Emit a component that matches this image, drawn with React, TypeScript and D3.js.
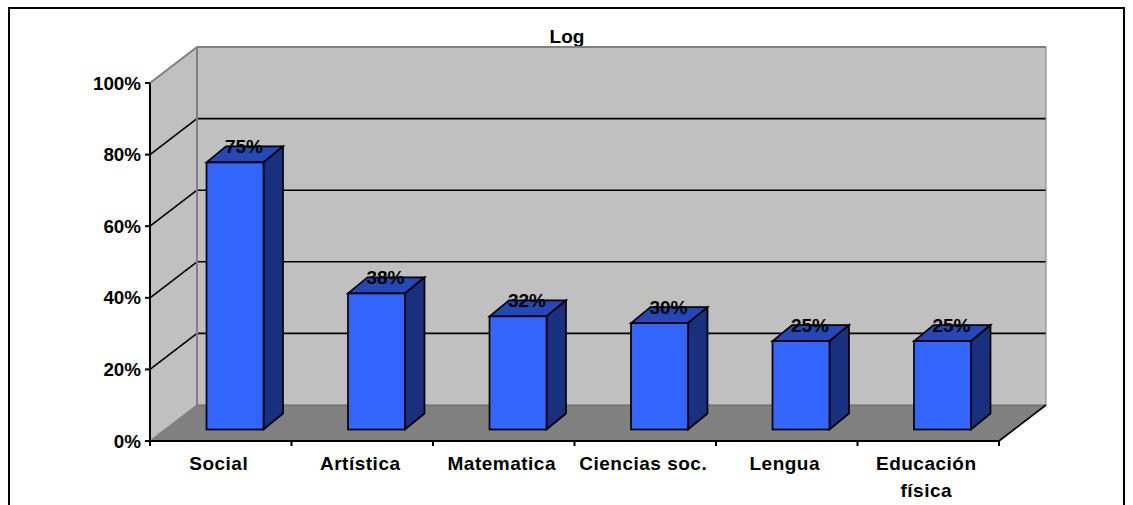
import React from "react";
import * as d3 from "d3";

const categories = ["Social", "Artística", "Matematica", "Ciencias soc.", "Lengua", "Educación física"];
const values = [0.746, 0.38, 0.316, 0.297, 0.247, 0.247];
const yTicks = [0, 0.2, 0.4, 0.6, 0.8, 1];
const title = "Log";

const FONT = "'Liberation Sans', Arial, sans-serif";
const DX = 47;
const DY = -36;

export default function App() {
  const x = d3.scaleBand<string>().domain(categories).range([150, 999]).paddingInner(0).paddingOuter(0);
  const y = d3.scaleLinear().domain([0, 1]).range([441, 83]);
  const pct = d3.format(".0%");
  const bw = 57;
  const barDx = 19.5;
  const barDy = -16;
  const poly = (pts: [number, number][]) => d3.line()(pts) + "Z";
  const x0 = x.range()[0];
  const x1 = x.range()[1];
  const y0 = y(0);
  const y1 = y(1);

  const labelLines: Record<string, string[]> = { "Educación física": ["Educación", "física"] };

  return (
    <svg width={1133} height={505} style={{ position: "absolute", left: 0, top: 0, background: "#fff" }} fontFamily={FONT} fontWeight="bold">
      <rect x={9} y={8} width={1115} height={520} fill="#fff" stroke="#000" strokeWidth={2} />
      <text x={567} y={43} textAnchor="middle" fontSize={19}>{title}</text>

      {/* back wall */}
      <rect x={x0 + DX} y={y1 + DY} width={x1 - x0} height={y0 - y1} fill="#c0c0c0" />
      {/* side wall */}
      <path d={poly([[x0, y0], [x0 + DX, y0 + DY], [x0 + DX, y1 + DY], [x0, y1]])} fill="#c0c0c0" />
      {/* floor */}
      <path d={poly([[x0, y0], [x1, y0], [x1 + DX, y0 + DY], [x0 + DX, y0 + DY]])} fill="#808080" />

      {yTicks.slice(1, -1).map((t) => (
        <g key={t} stroke="#000" strokeWidth={1.6} fill="none">
          <line x1={x0} y1={y(t)} x2={x0 + DX} y2={y(t) + DY} />
          <line x1={x0 + DX} y1={y(t) + DY} x2={x1 + DX} y2={y(t) + DY} />
        </g>
      ))}

      <g stroke="#808080" strokeWidth={2} fill="none">
        <path d={d3.line()([[x0, y1], [x0 + DX, y1 + DY], [x1 + DX, y1 + DY]]) as string} />
        <line x1={x0 + DX} y1={y1 + DY} x2={x0 + DX} y2={y0 + DY} />
        <line x1={x0} y1={y0} x2={x0 + DX} y2={y0 + DY} strokeWidth={1.5} />
        <line x1={x1 + DX} y1={y1 + DY} x2={x1 + DX} y2={y0 + DY} strokeWidth={1} />
        <line x1={x0 + DX} y1={y0 + DY} x2={x1 + DX} y2={y0 + DY} strokeWidth={1} stroke="#666" />
      </g>
      <line x1={x1} y1={y0} x2={x1 + DX} y2={y0 + DY} stroke="#000" strokeWidth={1.6} />

      {/* axes */}
      <g stroke="#000" strokeWidth={2} fill="none">
        <line x1={x0} y1={y1} x2={x0} y2={y0 + 5} />
        <line x1={x0 - 5} y1={y0} x2={x1} y2={y0} />
        {yTicks.map((t) => <line key={t} x1={x0 - 5} y1={y(t)} x2={x0} y2={y(t)} />)}
        {[...categories.map((c) => x(c) as number), x1].map((p) => <line key={p} x1={p} y1={y0} x2={p} y2={y0 + 5} />)}
      </g>
      {yTicks.map((t) => (
        <text key={t} x={141} y={y(t) + 6.5} textAnchor="end" fontSize={18.8}>{pct(t)}</text>
      ))}

      {/* bars */}
      {categories.map((c, i) => {
        const bx = (x(c) as number) + 56.5;
        const base = y0 - 11.5;
        const top = base - (y0 - y(values[i]));
        return (
          <g key={c} stroke="#000" strokeWidth={1.7} strokeLinejoin="miter">
            <path d={poly([[bx, top], [bx + barDx, top + barDy], [bx + bw + barDx, top + barDy], [bx + bw, top]])} fill="#2448b8" />
            <path d={poly([[bx + bw, top], [bx + bw + barDx, top + barDy], [bx + bw + barDx, base + barDy], [bx + bw, base]])} fill="#19307f" />
            <rect x={bx} y={top} width={bw} height={base - top} fill="#3366ff" />
            <text x={bx + bw / 2 + 9} y={top - 9} textAnchor="middle" fontSize={19} fill="#000" stroke="none">{pct(values[i])}</text>
          </g>
        );
      })}

      {/* category labels */}
      {categories.map((c) => {
        const lines = labelLines[c] ?? [c];
        const cx = (x(c) as number) + x.bandwidth() / 2 - 2;
        return (
          <text key={c} textAnchor="middle" fontSize={19} letterSpacing={0.5}>
            {lines.map((l, j) => <tspan key={l} x={cx} y={470 + j * 27}>{l}</tspan>)}
          </text>
        );
      })}
    </svg>
  );
}
